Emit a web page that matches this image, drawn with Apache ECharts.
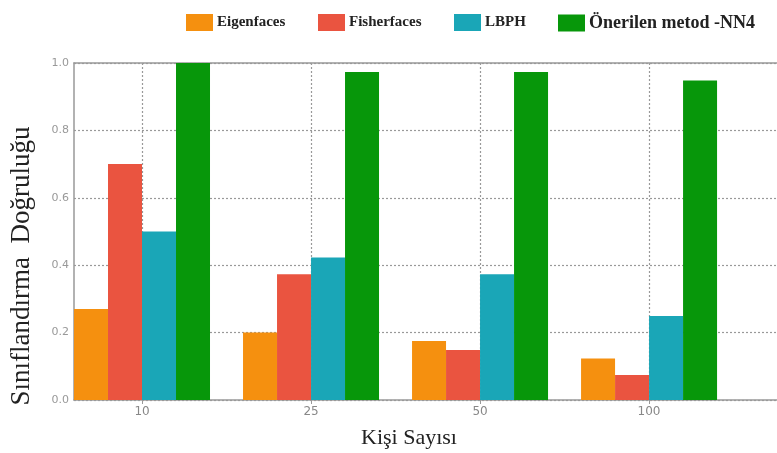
<!DOCTYPE html>
<html>
<head>
<meta charset="utf-8">
<script src="https://cdn.jsdelivr.net/npm/echarts@6/dist/echarts.min.js"></script>
<style>
html,body{margin:0;padding:0;background:#fff;}
#chart{width:777px;height:453px;}
</style>
</head>
<body>
<div id="chart"></div>
<script>
var categories = ['10', '25', '50', '100'];
var seriesNames = ['Eigenfaces', 'Fisherfaces', 'LBPH', 'Önerilen metod -NN4'];
var eigenfaces = [0.27, 0.20, 0.175, 0.123];
var fisherfaces = [0.70, 0.373, 0.148, 0.074];
var lbph = [0.50, 0.423, 0.373, 0.249];
var nn4 = [1.0, 0.973, 0.973, 0.948];
var yTicks = [0, 0.2, 0.4, 0.6, 0.8, 1.0];
var colors = ['#F5900F', '#EA5440', '#1AA6B7', '#07970A'];

var allValues = [eigenfaces, fisherfaces, lbph, nn4];
var chart = echarts.init(document.getElementById('chart'), null, {renderer: 'canvas'});

function toPoints(arr) {
  return arr.map(function (v, i) { return [i, v]; });
}

var series = allValues.map(function (arr, k) {
  return {
    name: seriesNames[k],
    type: 'bar',
    data: toPoints(arr),
    barWidth: 34,
    barGap: '0%',
    itemStyle: {color: colors[k]},
    emphasis: {disabled: true}
  };
});

var legendLefts = [181, 313, 449, 553];
var legends = seriesNames.map(function (n, k) {
  return {
    data: [n],
    left: legendLefts[k],
    top: 9,
    itemWidth: 27,
    itemHeight: 17,
    itemGap: 5,
    icon: 'rect',
    selectedMode: false,
    textStyle: {
      fontFamily: 'Liberation Serif',
      fontWeight: 'bold',
      fontSize: k === 3 ? 18 : 15,
      color: '#222',
      padding: [0, 0, 0, -1]
    }
  };
});

chart.setOption({
  animation: false,
  color: colors,
  legend: legends,
  grid: {left: 74, right: 0, top: 63, bottom: 53},
  xAxis: [{
    type: 'value',
    min: -0.4024,
    max: 3.757,
    axisLine: {show: true, onZero: false, lineStyle: {color: '#999', width: 1.5}},
    axisTick: {show: true, customValues: [0, 1, 2, 3], length: 4, lineStyle: {color: '#999'}},
    axisLabel: {
      customValues: [0, 1, 2, 3],
      formatter: function (v) { return categories[Math.round(v)]; },
      color: '#888', fontSize: 12, fontFamily: 'DejaVu Sans', margin: 6
    },
    splitLine: {show: true, lineStyle: {color: '#999', type: [2, 2], width: 1.2}}
  }, {
    type: 'value',
    position: 'top',
    min: 0, max: 1,
    axisLine: {show: true, onZero: false, lineStyle: {color: '#999', width: 1.5}},
    axisTick: {show: false},
    axisLabel: {show: false},
    splitLine: {show: false}
  }],
  yAxis: {
    type: 'value',
    min: 0,
    max: 1,
    interval: 0.2,
    axisLine: {show: true, onZero: false, lineStyle: {color: '#999', width: 1.5}},
    axisTick: {show: false},
    axisLabel: {
      formatter: function (v) { return v.toFixed(1); },
      color: '#999', fontSize: 11, fontFamily: 'DejaVu Sans', margin: 5
    },
    splitLine: {show: true, lineStyle: {color: '#999', type: [2, 2], width: 1.2}}
  },
  graphic: [{
    type: 'text',
    x: 22, y: 266,
    rotation: Math.PI / 2,
    style: {
      text: 'Sınıflandırma  Doğruluğu',
      font: '27px "Liberation Serif"',
      fill: '#222',
      align: 'center',
      verticalAlign: 'middle'
    }
  }, {
    type: 'text',
    x: 409, y: 438,
    style: {
      text: 'Kişi Sayısı',
      font: '22px "Liberation Serif"',
      fill: '#222',
      align: 'center',
      verticalAlign: 'middle'
    }
  }],
  series: series
});
</script>
</body>
</html>
